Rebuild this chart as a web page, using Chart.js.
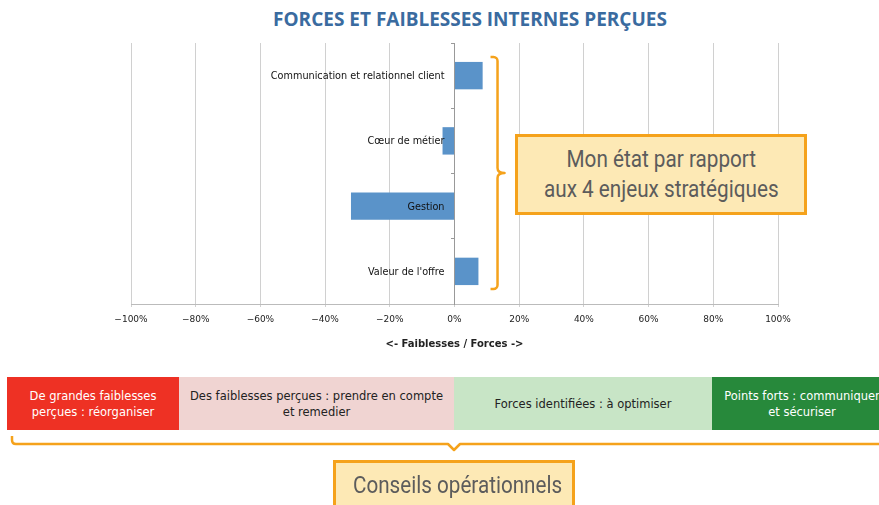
<!DOCTYPE html>
<html>
<head>
<meta charset="utf-8">
<script src="https://cdn.jsdelivr.net/npm/chart.js@4.4.1/dist/chart.umd.min.js"></script>
<style>
  body { margin: 0; width: 879px; height: 505px; overflow: hidden; position: relative; background: #fff; }
  #title { position: absolute; left: 0; top: 9px; width: 940px; text-align: center; font: 700 19px "Open Sans", sans-serif; line-height: 20px; color: #3a6b9f; }
  #wrap { position: absolute; left: 0; top: 0; width: 879px; height: 360px; }
  .box { position: absolute; box-sizing: border-box; border: 3px solid #f5a21b; background: #fde9b5; color: #5c5c5c;
         font: 23px Roboto, sans-serif; text-align: center; z-index: 2; white-space: nowrap; }
  .box span { display: inline-block; transform: scaleX(0.9); transform-origin: center; }
  #box1 { left: 515px; top: 134px; width: 292px; height: 81px; line-height: 30px; padding-top: 8px; }
  #box2 { left: 333px; top: 460px; width: 242px; height: 60px; line-height: 42px; padding-top: 1px; font-size: 24px; }
  #box2 span { transform: scaleX(0.86); }
  #band { position: absolute; left: 7px; top: 377px; height: 53px; display: flex; }
  #band div { height: 53px; display: flex; align-items: center; justify-content: center; text-align: center;
              font: 11.5px "DejaVu Sans", sans-serif; line-height: 16px; }
  #bracket { position: absolute; left: 0; top: 0; }
</style>
</head>
<body>
<div id="title">FORCES ET FAIBLESSES INTERNES PERÇUES</div>
<div id="wrap"><canvas id="chart"></canvas></div>
<div class="box" id="box1"><span>Mon état par rapport<br>aux 4 enjeux stratégiques</span></div>
<div id="band"></div>
<svg id="bracket" width="879" height="505">
  <path d="M12 436 L12 440 Q12 444 16 444 L448 444 L454 450 L460 444 L879 444" fill="none" stroke="#f5a21b" stroke-width="2.5" stroke-linejoin="round"/>
</svg>
<div class="box" id="box2"><span>Conseils opérationnels</span></div>
<script>
// Internal strengths / weaknesses, as % from -100 (weakness) to +100 (strength)
const CATEGORIES = ['Communication et relationnel client', 'Cœur de métier', 'Gestion', "Valeur de l'offre"];
const SCORES = [8.7, -3.7, -32, 7.4];
const X_MIN = -100;
const X_MAX = 100;
const X_STEP = 20;
const AXIS_TITLE = '<- Faiblesses / Forces ->';

// Advice band below the chart
const BAND_LABELS = [
  'De grandes faiblesses<br>perçues : réorganiser',
  'Des faiblesses perçues : prendre en compte<br>et remedier',
  'Forces identifiées : à optimiser',
  'Points forts : communiquer<br>et sécuriser',
];
const BAND_WIDTHS = [172, 275, 258, 180];
const BAND_BG = ['#ee3124', '#f0d4d2', '#c8e5c6', '#27893b'];
const BAND_FG = ['#fff', '#222', '#222', '#fff'];

const band = document.getElementById('band');
BAND_LABELS.forEach((txt, i) => {
  const d = document.createElement('div');
  d.innerHTML = txt;
  d.style.width = BAND_WIDTHS[i] + 'px';
  d.style.background = BAND_BG[i];
  d.style.color = BAND_FG[i];
  band.appendChild(d);
});

// Category names sit left of the zero line, over the bars
const catLabels = {
  id: 'catLabels',
  afterDatasetsDraw(chart) {
    const { ctx } = chart;
    const x0 = chart.scales.x.getPixelForValue(0);
    const ys = chart.scales.y;
    ctx.save();
    ctx.font = '9.7px "DejaVu Sans"';
    ctx.fillStyle = '#111';
    ctx.textAlign = 'right';
    ctx.textBaseline = 'middle';
    CATEGORIES.forEach((c, i) => ctx.fillText(c, x0 - 10, ys.getPixelForValue(i) + 1));
    ctx.restore();
  },
};

// Curly brace on the right of the bars, hooked to the scales
const bracePlugin = {
  id: 'brace',
  afterDraw(chart) {
    const { ctx, chartArea: ca } = chart;
    const x = chart.scales.x.getPixelForValue(13.3);
    const top = ca.top + 14, bot = ca.bottom - 15, mid = (top + bot) / 2;
    ctx.save();
    ctx.strokeStyle = '#f5a21b';
    ctx.lineWidth = 2.5;
    ctx.lineJoin = 'round';
    ctx.beginPath();
    ctx.moveTo(x - 7, top);
    ctx.arcTo(x, top, x, top + 5, 4);
    ctx.lineTo(x, mid - 5);
    ctx.quadraticCurveTo(x, mid, x + 7, mid);
    ctx.quadraticCurveTo(x, mid, x, mid + 5);
    ctx.lineTo(x, bot - 5);
    ctx.arcTo(x, bot, x - 7, bot, 4);
    ctx.lineTo(x - 7, bot);
    ctx.stroke();
    ctx.restore();
  },
};

const fmtPct = (v) => (v < 0 ? '\u2212' + Math.abs(v) : v) + '%';

new Chart(document.getElementById('chart'), {
  type: 'bar',
  data: {
    labels: CATEGORIES,
    datasets: [{
      data: SCORES,
      backgroundColor: '#5a93c9',
      borderWidth: 0,
      categoryPercentage: 1,
      barPercentage: 0.42,
    }],
  },
  plugins: [catLabels, bracePlugin],
  options: {
    indexAxis: 'y',
    responsive: true,
    maintainAspectRatio: false,
    animation: false,
    layout: { padding: { left: 131, right: 101, top: 43, bottom: 6 } },
    plugins: { legend: { display: false }, tooltip: { enabled: false } },
    scales: {
      x: {
        min: X_MIN,
        max: X_MAX,
        afterFit: (s) => { s.height = 50; },
        ticks: { stepSize: X_STEP, callback: fmtPct, color: '#222', font: { family: 'DejaVu Sans', size: 9 }, padding: 7 },
        grid: { color: '#d0d0d0', tickLength: 3 },
        border: { color: '#bbbbbb' },
        title: { display: true, text: AXIS_TITLE, color: '#222', font: { family: 'DejaVu Sans', size: 10, weight: 'bold' } },
      },
      y: {
        position: { x: 0 },
        ticks: { display: false },
        grid: { drawOnChartArea: false, drawTicks: true, tickLength: 3, color: '#999', offset: true },
        border: { color: '#999' },
      },
    },
  },
});
</script>
</body>
</html>
